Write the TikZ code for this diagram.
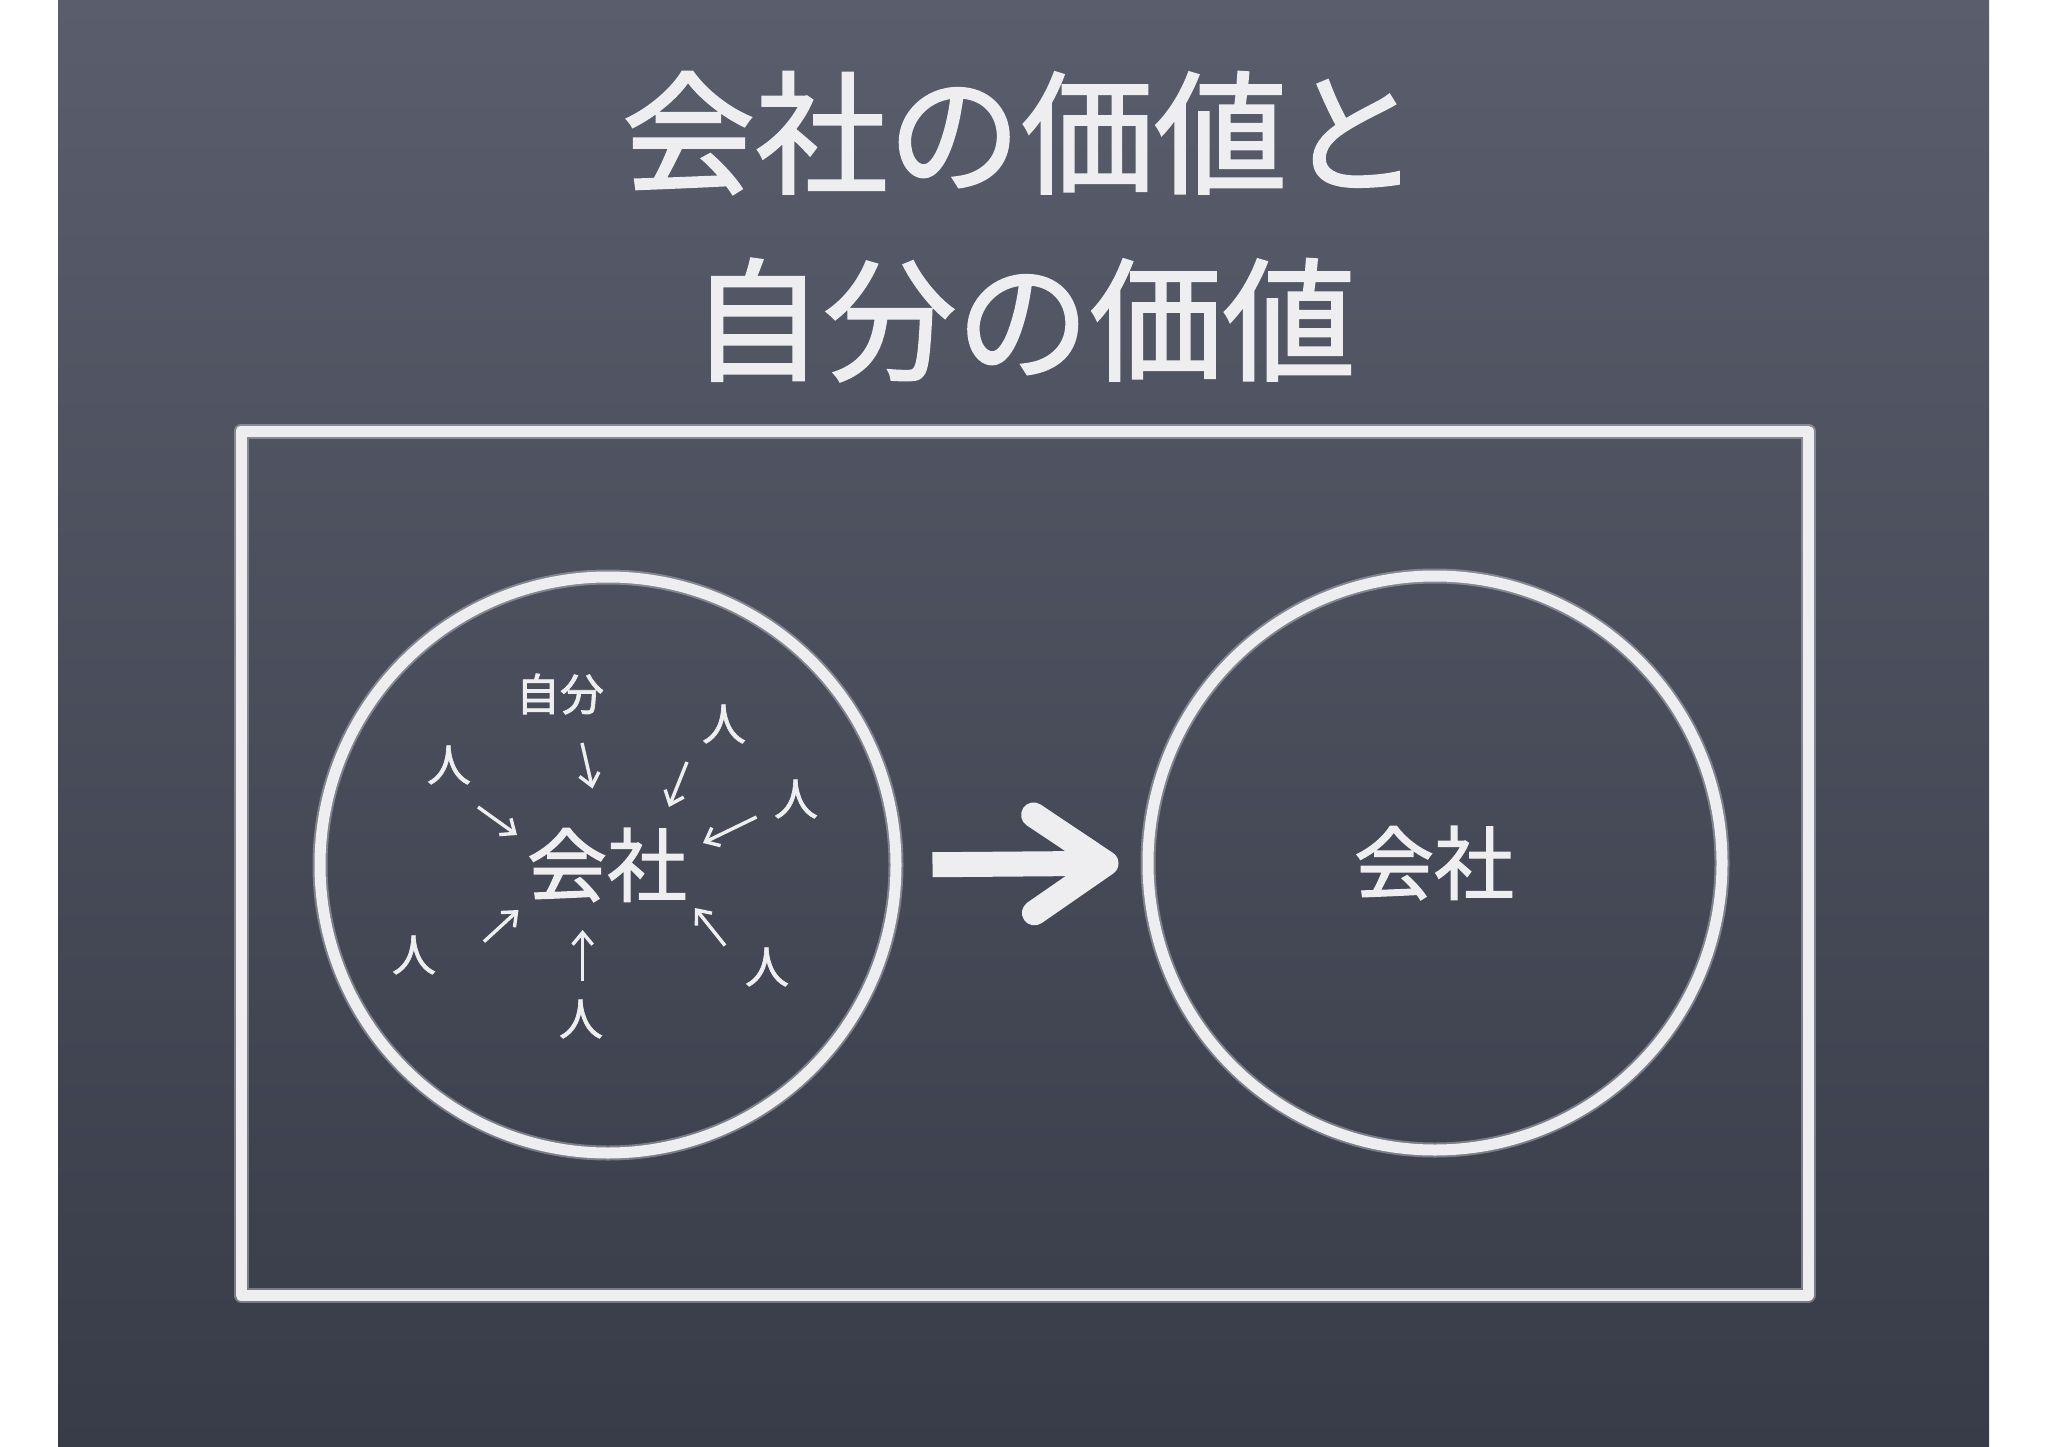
\documentclass[tikz,border=0pt]{standalone}
\usepackage{fontspec}
\newfontfamily\jp{Noto Sans CJK JP}[FakeBold=1.5]
\usetikzlibrary{arrows.meta,decorations.pathmorphing}
\definecolor{chalk}{RGB}{238,238,240}
\definecolor{boardtop}{RGB}{90,94,108}
\definecolor{boardmid}{RGB}{74,78,92}
\definecolor{boardbot}{RGB}{56,60,73}
\begin{document}
\begin{tikzpicture}[x=1pt,y=-1pt,
  chalkline/.style={draw=chalk, line width=11pt, line join=round,
    preaction={draw=chalk, draw opacity=0.35, line width=15pt}},
  titletext/.style={text=chalk, font=\jp\fontsize{133}{160}\selectfont, inner sep=0pt},
  bigtext/.style={text=chalk, font=\jp\fontsize{80}{96}\selectfont, inner sep=0pt},
  smalltext/.style={text=chalk, font=\jp\fontsize{44}{52}\selectfont, inner sep=0pt},
  thinarrow/.style={draw=chalk, line width=3.4pt, -{Straight Barb[length=12pt,width=20pt]}},
  bigarrow/.style={draw=chalk, line width=25pt, -{Straight Barb[length=72pt,width=98pt,round]}},
]
\useasboundingbox (0,0) rectangle (2048,1447);
\fill[white] (0,0) rectangle (2048,1447);
\shade[top color=boardtop, middle color=boardmid, bottom color=boardbot] (58,0) rectangle (1989,1447);

\node[titletext] (t1) at (1021,133) {会社の価値と};
\node[titletext] (t2) at (1023,320) {自分の価値};

\node[chalkline, minimum width=1567pt, minimum height=864pt, inner sep=0pt] (frame) at (1024.5,863) {};

\node[chalkline, circle, minimum size=576pt, inner sep=0pt] (Lcirc) at (608,865) {};
\node[chalkline, circle, minimum size=574pt, inner sep=0pt] (Rcirc) at (1435,863) {};

\node[bigtext] (LC) at (607,865) {会社};
\node[bigtext] (RC) at (1434,863) {会社};

\node[smalltext] (me) at (560,694) {自分};
\node[smalltext] (p1) at (449,765) {人};
\node[smalltext] (p2) at (724,724) {人};
\node[smalltext] (p3) at (796,799) {人};
\node[smalltext] (p4) at (414,955) {人};
\node[smalltext] (p5) at (581,1019) {人};
\node[smalltext] (p6) at (767,967) {人};

\draw[thinarrow] ([shift={(22,49)}]me.center) -- ([shift={(-14.5,-76.5)}]LC.center);
\draw[thinarrow] ([shift={(29,42)}]p1.center) -- ([shift={(-90,-30)}]LC.center);
\draw[thinarrow] ([shift={(-37,38)}]p2.center) -- ([shift={(62,-58)}]LC.center);
\draw[thinarrow] ([shift={(-39.4,18)}]p3.center) -- ([shift={(96,-22)}]LC.center);
\draw[thinarrow] ([shift={(70,-13.4)}]p4.center) -- ([shift={(-88.5,45)}]LC.center);
\draw[thinarrow] ([shift={(1.6,-38)}]p5.center) -- ([shift={(-24.4,65)}]LC.center);
\draw[thinarrow] ([shift={(-42,-21.5)}]p6.center) -- ([shift={(88,43)}]LC.center);

\draw[bigarrow, shorten <=31pt, shorten >=24pt] (Lcirc.east) -- (Rcirc.west);
\end{tikzpicture}
\end{document}
